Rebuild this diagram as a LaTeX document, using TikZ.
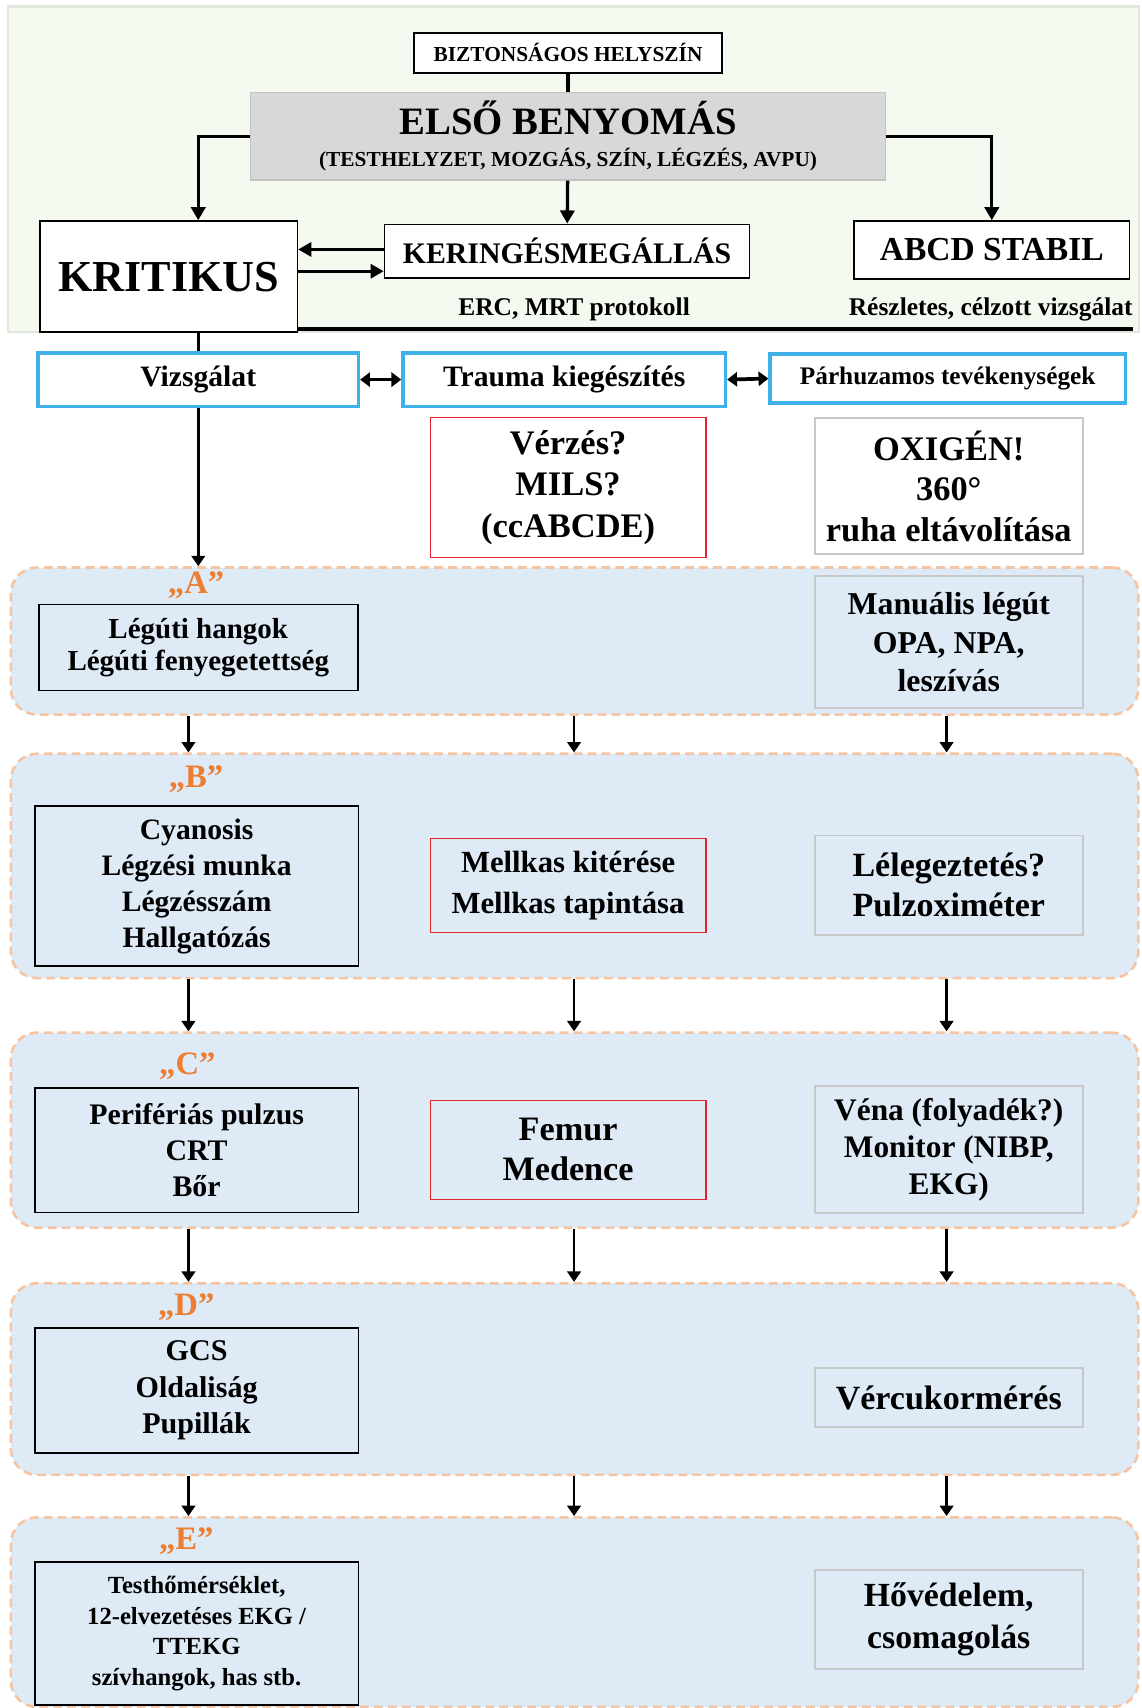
\documentclass[tikz,border=0pt]{standalone}
\usepackage{fontspec}
\setmainfont{Liberation Serif}
\usetikzlibrary{arrows.meta,positioning,calc}

\definecolor{topgreen}{RGB}{245,250,241}
\definecolor{topedge}{RGB}{224,231,220}
\definecolor{firstgray}{RGB}{216,216,216}
\definecolor{firstedge}{RGB}{195,195,195}
\definecolor{boxblue}{RGB}{62,178,232}
\definecolor{boxred}{RGB}{226,35,43}
\definecolor{boxgray}{RGB}{200,200,200}
\definecolor{regionblue}{RGB}{222,234,246}
\definecolor{dashorange}{RGB}{246,196,160}
\definecolor{labelorange}{RGB}{237,125,49}

\newcommand{\fsz}[2]{\fontsize{#1}{#2}\selectfont\bfseries}

\begin{document}
\begin{tikzpicture}[x=0.5pt,y=-0.5pt,
        box/.style={draw, line width=0.8pt, align=center, inner sep=0pt},
        firstbox/.style={box, draw=firstedge, fill=firstgray},
        bluebox/.style={box, draw=boxblue, line width=1.6pt, fill=white},
        redbox/.style={box, draw=boxred, line width=0.6pt, fill=white},
        graybox/.style={box, draw=boxgray, line width=0.9pt},
        region/.style={draw=dashorange, dash pattern=on 4pt off 2.4pt,
            line width=1.2pt, fill=regionblue, rounded corners=12pt,
            minimum width=517.5pt, inner sep=0pt},
        phase/.style={text=labelorange, font=\fsz{15}{16}},
        note/.style={font=\fsz{11.7}{13}},
        link/.style={line width=1.5pt},
        bigarr/.style={line width=1.5pt, -{Triangle[length=6pt,width=6.5pt]}},
        arr/.style={line width=1.2pt, -{Triangle[length=4.8pt,width=6.2pt]}},
        dblarr/.style={line width=1.7pt,
            {Triangle[length=4.5pt,width=6.5pt]}-{Triangle[length=4.5pt,width=6.5pt]}},
    ]
        \useasboundingbox (0,0) rectangle (1048,1568);

        % Top block
        \filldraw[fill=topgreen, draw=topedge, line width=1pt] (7,6) rectangle (1046,305);

        \node[box, fill=white, minimum width=141.5pt, minimum height=18.5pt,
            font=\fsz{9.8}{11}] (safe) at (521.5,48.5) {BIZTONSÁGOS HELYSZÍN};
        \node[firstbox, minimum width=291.5pt, minimum height=40pt,
            font=\fsz{9.8}{14.5}] (first) at (521.5,125)
            {{\fsz{17.8}{20}ELSŐ BENYOMÁS}\\(TESTHELYZET, MOZGÁS, SZÍN, LÉGZÉS, AVPU)};

        \node[box, fill=white, minimum width=118pt, minimum height=51pt,
            font=\fsz{20.3}{24}] (crit) at (155,254) {KRITIKUS};
        \node[box, fill=white, minimum width=167.5pt, minimum height=24.5pt,
            font=\fsz{13.7}{16}] (arrest) at (520.5,230.5) {KERINGÉSMEGÁLLÁS};
        \node[box, fill=white, minimum width=126.5pt, minimum height=26.5pt,
            font=\fsz{15.4}{18}] (stable) at (910.5,229.5) {ABCD STABIL};

        \node[note] (erc) at (527,284) {ERC, MRT protokoll};
        \node[note] (detail) at (909.5,284) {Részletes, célzott vizsgálat};
        \coordinate (rend) at (1040,302);

        \draw[link] (safe) -- (first);
        \draw[bigarr] (first.west) -| ([xshift=13.5pt]crit.north);
        \draw[bigarr] (first) -- (arrest);
        \draw[bigarr] (first.east) -| (stable.north);
        \draw[bigarr, line width=1.3pt] ([yshift=0.75pt]arrest.west)
            -- ([yshift=0.75pt]arrest.west -| crit.east);
        \draw[bigarr, line width=1.3pt] ([yshift=-9.25pt]arrest.west -| crit.east)
            -- ([yshift=-9.25pt]arrest.west);
        \draw[link] (rend -| crit.east) -- (rend);

        % Blue row
        \node[bluebox, minimum width=147pt, minimum height=24.5pt,
            font=\fsz{13.6}{16}] (exam) at (182,348.5) {Vizsgálat};
        \node[bluebox, minimum width=148pt, minimum height=24.5pt,
            font=\fsz{13.6}{16}] (trauma) at (518,348.5) {Trauma kiegészítés};
        \node[bluebox, minimum width=163pt, minimum height=22.5pt,
            font=\fsz{11.6}{14}] (parallel) at (870,347.5) {Párhuzamos tevékenységek};

        \draw[link] ([xshift=13.5pt]crit.south) -- (exam.north);
        \draw[dblarr] (exam.east) -- (trauma.west);
        \draw[dblarr] (trauma.east) -- (parallel.west);

        \node[redbox, minimum width=126.5pt, minimum height=64.5pt,
            font=\fsz{15.8}{19}] (bleed) at (521.5,447.5) {Vérzés?\\MILS?\\(ccABCDE)};
        \node[graybox, fill=white, minimum width=123pt, minimum height=62.5pt,
            font=\fsz{15.8}{18.5}] (oxy) at (871,446.5) {OXIGÉN!\\360°\\ruha eltávolítása};

        % ABCDE regions
        \node[region, minimum height=67.5pt] (regA) at (527.5,588.5) {};
        \node[region, minimum height=103pt] (regB) at (527.5,795) {};
        \node[region, minimum height=89.5pt] (regC) at (527.5,1037.5) {};
        \node[region, minimum height=88pt] (regD) at (527.5,1266) {};
        \node[region, minimum height=87pt] (regE) at (527.5,1480) {};

        \draw[arr, line width=1.3pt] (exam.south) -- (exam.south |- regA.north);
        \foreach \r/\s in {regA/regB, regB/regC, regC/regD, regD/regE}
            \foreach \x in {173,527,869}
                \draw[arr] (\r.south -| \x,0) -- (\s.north -| \x,0);

        \node[phase] (labA) at (180,537) {„A”};
        \node[phase] (labB) at (180,715) {„B”};
        \node[phase] (labC) at (172,979) {„C”};
        \node[phase] (labD) at (171,1200) {„D”};
        \node[phase] (labE) at (171,1415) {„E”};

        % A
        \node[box, minimum width=146.5pt, minimum height=39.5pt,
            font=\fsz{13.3}{15}] (airway) at (182,594.5)
            {Légúti hangok\\Légúti fenyegetettség};
        \node[graybox, minimum width=123pt, minimum height=60.5pt,
            font=\fsz{14.6}{17.5}] (manual) at (871,589.5)
            {Manuális légút\\OPA, NPA,\\leszívás};

        % B
        \node[box, minimum width=148.5pt, minimum height=73.5pt,
            font=\fsz{13.6}{16.5}] (breath) at (180.5,813.5)
            {Cyanosis\\Légzési munka\\Légzésszám\\Hallgatózás};
        \node[redbox, fill=none, minimum width=126.5pt, minimum height=43pt,
            font=\fsz{14.1}{18.5}] (chest) at (521.5,813)
            {Mellkas kitérése\\Mellkas tapintása};
        \node[graybox, minimum width=123pt, minimum height=45.5pt,
            font=\fsz{15.6}{18.5}] (vent) at (871,812.5)
            {Lélegeztetés?\\Pulzoximéter};

        % C
        \node[box, minimum width=148.5pt, minimum height=57pt,
            font=\fsz{13.7}{16.5}] (circ) at (180.5,1056)
            {Perifériás pulzus\\CRT\\Bőr};
        \node[redbox, fill=none, minimum width=126.5pt, minimum height=45.5pt,
            font=\fsz{15.7}{18.5}] (femur) at (521.5,1055.5)
            {Femur\\Medence};
        \node[graybox, minimum width=123pt, minimum height=58.5pt,
            font=\fsz{14.4}{17}] (vein) at (871,1055.5)
            {Véna (folyadék?)\\Monitor (NIBP,\\EKG)};

        % D
        \node[box, minimum width=148.5pt, minimum height=57.5pt,
            font=\fsz{13.8}{16.75}] (neuro) at (180.5,1276.5)
            {GCS\\Oldaliság\\Pupillák};
        \node[graybox, minimum width=123pt, minimum height=27pt,
            font=\fsz{15.6}{18}] (sugar) at (871,1283) {Vércukormérés};

        % E
        \node[box, minimum width=148.5pt, minimum height=65.5pt,
            font=\fsz{11.3}{14}] (expo) at (180.5,1499.5)
            {Testhőmérséklet,\\12-elvezetéses EKG /\\TTEKG\\szívhangok, has stb.};
        \node[graybox, minimum width=123pt, minimum height=45.5pt,
            font=\fsz{15.5}{19}] (warm) at (871,1486.5)
            {Hővédelem,\\csomagolás};
\end{tikzpicture}
\end{document}
